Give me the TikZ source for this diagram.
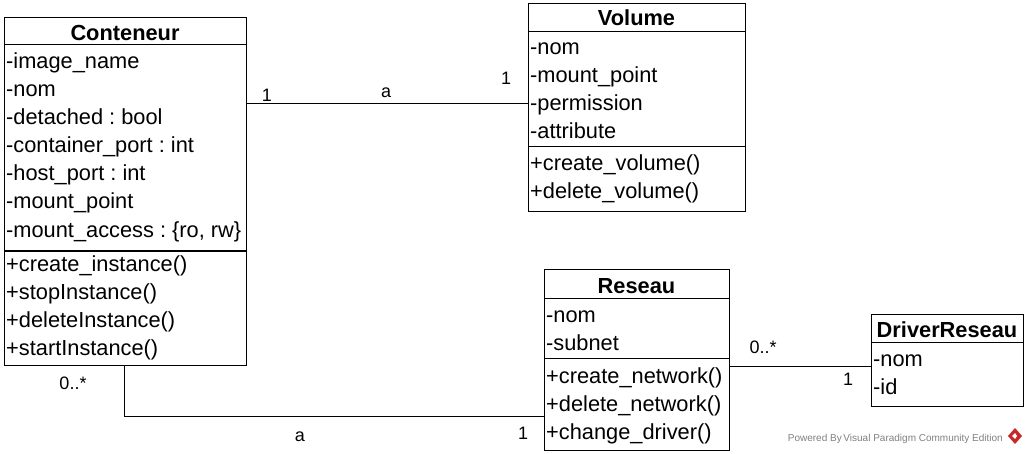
\documentclass[tikz,border=0pt]{standalone}
\usepackage{fontspec}
\setmainfont{Liberation Sans}
\usetikzlibrary{calc}
\definecolor{vpred}{RGB}{200,40,40}
\frenchspacing

\tikzset{
	classbox/.style={draw, line width=1pt, anchor=north west, inner sep=0pt},
	classname/.style={font=\fontsize{21.8}{24}\selectfont\bfseries, anchor=base, inner sep=0pt},
	member/.style={font=\fontsize{21.8}{24}\selectfont, anchor=base west, inner sep=0pt},
	mult/.style={font=\fontsize{18}{20}\selectfont, inner sep=0pt},
	assoc/.style={line width=1pt},
}

\begin{document}
\begin{tikzpicture}[x=1pt, y=-1pt]
		%%%%% START %%%%%
		\useasboundingbox (0,0) rectangle (1027,454);
		
		% Conteneur
		\node[classbox, minimum width=242pt, minimum height=348pt] (cont) at (4,17) {};
		\node[classname] (cont-t) at (125,41) {Conteneur};
		\draw[line width=1pt] (cont.west |- 0,45) -- (cont.east |- 0,45);
		\draw[line width=1pt] (cont.west |- 0,251) -- (cont.east |- 0,251);
		\foreach \m [count=\i from 0] in {-image\_name, -nom, -detached : bool, -container\_port : int, -host\_port : int, -mount\_point, {-mount\_access : \{ro, rw\}}}
			\node[member] (cont-a\i) at (6, 69+28*\i) {\m};
		\foreach \m [count=\i from 0] in {+create\_instance(), +stopInstance(), +deleteInstance(), +startInstance()}
			\node[member] (cont-o\i) at (6, 271+28*\i) {\m};
		
		% Volume
		\node[classbox, minimum width=217pt, minimum height=208pt] (vol) at (528,3) {};
		\node[classname] (vol-t) at (636.5,26) {Volume};
		\draw[line width=1pt] (vol.west |- 0,32) -- (vol.east |- 0,32);
		\draw[line width=1pt] (vol.west |- 0,147) -- (vol.east |- 0,147);
		\foreach \m [count=\i from 0] in {-nom, -mount\_point, -permission, -attribute}
			\node[member] (vol-a\i) at (530, 55+28*\i) {\m};
		\foreach \m [count=\i from 0] in {+create\_volume(), +delete\_volume()}
			\node[member] (vol-o\i) at (530, 171+28*\i) {\m};
		
		% Reseau
		\node[classbox, minimum width=185pt, minimum height=181pt] (res) at (544,269) {};
		\node[classname] (res-t) at (636.5,293) {Reseau};
		\draw[line width=1pt] (res.west |- 0,298) -- (res.east |- 0,298);
		\draw[line width=1pt] (res.west |- 0,358) -- (res.east |- 0,358);
		\foreach \m [count=\i from 0] in {-nom, -subnet}
			\node[member] (res-a\i) at (546, 322+28*\i) {\m};
		\foreach \m [count=\i from 0] in {+create\_network(), +delete\_network(), +change\_driver()}
			\node[member] (res-o\i) at (546, 383+28*\i) {\m};
		
		% DriverReseau
		\node[classbox, minimum width=152pt, minimum height=92pt] (drv) at (871,314) {};
		\node[classname] (drv-t) at (947,337) {DriverReseau};
		\draw[line width=1pt] (drv.west |- 0,342) -- (drv.east |- 0,342);
		\foreach \m [count=\i from 0] in {-nom, -id}
			\node[member] (drv-a\i) at (873, 366+28*\i) {\m};
		
		% associations
		\draw[assoc] (cont.east |- 0,104) -- (vol.west |- 0,104);
		\node[mult] (m1) at (267,95) {1};
		\node[mult] (m2) at (386,93) {a};
		\node[mult] (m3) at (506,78) {1};
		
		\draw[assoc] ([xshift=-1pt]cont.south) |- (res.west |- 0,416);
		\node[mult] (m4) at (73,383) {0..*};
		\node[mult] (m5) at (300,437) {a};
		\node[mult] (m6) at (523,433) {1};
		
		\draw[assoc] (res.east |- 0,366) -- (drv.west |- 0,366);
		\node[mult] (m7) at (763,347) {0..*};
		\node[mult] (m8) at (848,379) {1};
		
		% footer
		\node[font=\fontsize{10}{12}\selectfont, text=black!50, anchor=base east, inner sep=0pt] (powered) at (1003,441) {Powered By\,Visual Paradigm Community Edition};
		\fill[vpred] (1015,428) -- (1022,436) -- (1015,444) -- (1008,436) -- cycle;
		\fill[white] (1012,436) -- (1015,433) -- (1017,436) -- (1015,439) -- cycle;
		%%%%% END %%%%%
	\end{tikzpicture}
\end{document}
